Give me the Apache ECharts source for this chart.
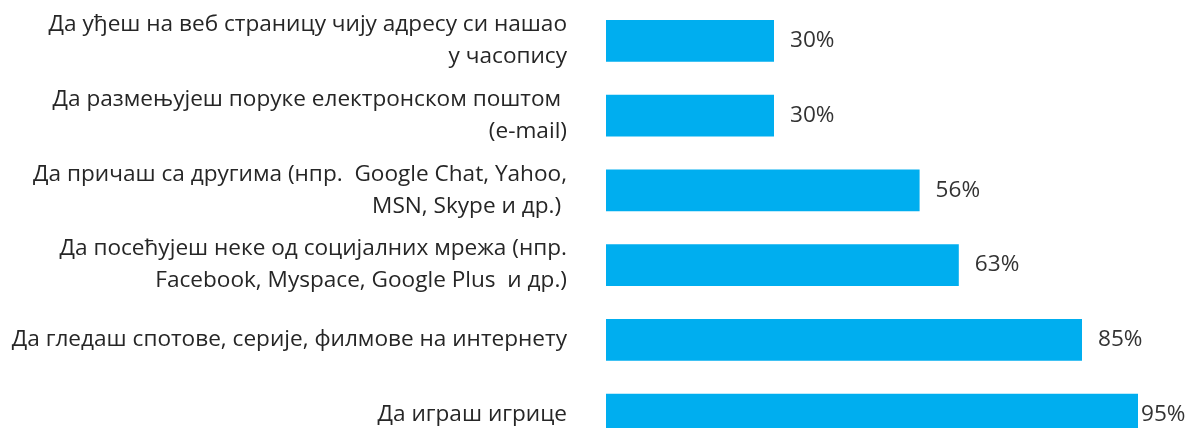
<!DOCTYPE html>
<html>
<head>
<meta charset="utf-8">
<script src="https://cdn.jsdelivr.net/npm/echarts@6/dist/echarts.min.js"></script>
<style>
html,body{margin:0;padding:0;background:#fff;}
#main{width:1188px;height:428px;}
</style>
</head>
<body>
<div id="main"></div>
<script>
// категорије (одозго надоле)
var categories = [
	'Да уђеш на веб страницу чију адресу си нашао\nу часопису',
	'Да размењујеш поруке електронском поштом \n(e-mail)',
	'Да причаш са другима (нпр.  Google Chat, Yahoo,\nMSN, Skype и др.) ',
	'Да посећујеш неке од социјалних мрежа (нпр.\nFacebook, Myspace, Google Plus  и др.)',
	'Да гледаш спотове, серије, филмове на интернету',
	'Да играш игрице'
];
var values = [30, 30, 56, 63, 85, 95];

var fontName = '"Open Sans", "Noto Sans", sans-serif';

var myChart = echarts.init(document.getElementById('main'), null, {renderer: 'canvas'});

var option = {
	animation: false,
	grid: {
		left: 606,
		top: 3.4,
		width: 560,
		height: 448.5,
		containLabel: false,
		outerBoundsMode: 'none'
	},
	xAxis: {
		type: 'value',
		min: 0,
		max: 100,
		show: false,
		splitLine: {show: false}
	},
	yAxis: {
		type: 'category',
		inverse: true,
		data: categories,
		axisLine: {show: false},
		axisTick: {show: false},
		axisLabel: {
			margin: 39,
			fontFamily: fontName,
			fontSize: 22.6,
			lineHeight: 32,
			color: '#262626',
			align: 'right',
			padding: [4, 0, 0, 0]
		}
	},
	series: [{
		type: 'bar',
		barWidth: 41.7,
		itemStyle: {color: '#00AEEF'},
		label: {
			show: true,
			position: 'right',
			distance: 16,
			fontFamily: fontName,
			fontSize: 22.6,
			color: '#333333',
			formatter: '{c}%',
			padding: [2, 0, 0, 0]
		},
		data: values.map(function(v, idx) {
			var item = {value: v};
			//последња трака - натпис ближе
			if (idx == values.length - 1) {
				item.label = {distance: 3};
			}
			return item;
		})
	}]
};
myChart.setOption(option);
</script>
</body>
</html>
